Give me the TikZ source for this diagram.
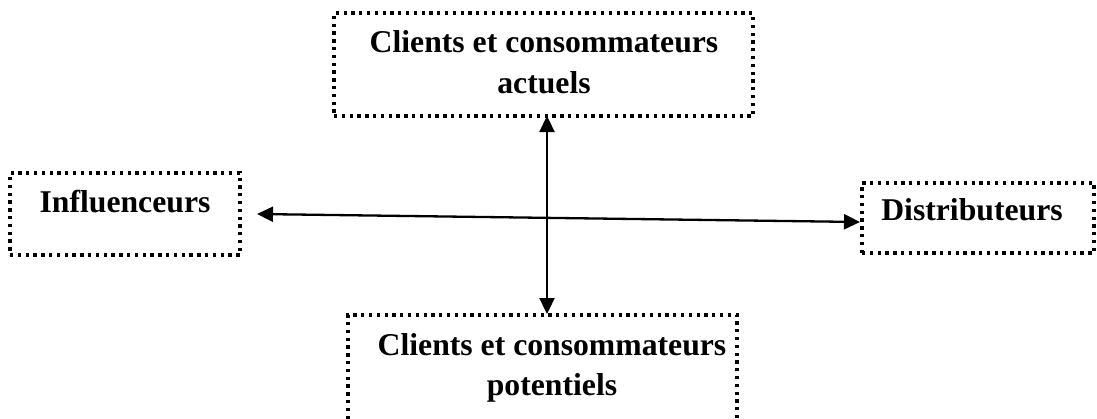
\documentclass[tikz,border=0pt]{standalone}
\usepackage{fontspec}
\setmainfont{Liberation Serif}
\usetikzlibrary{arrows.meta}
\begin{document}
\begin{tikzpicture}[x=1pt,y=-1pt,
  dotbox/.style={draw=black, line width=3.3pt, dash pattern=on 3.3pt off 4.5pt, minimum width=#1, inner sep=0pt},
  lbl/.style={font=\fontsize{31.7}{33}\selectfont\bfseries, align=center, inner sep=0pt, anchor=base},
  link/.style={line width=2.3pt, {Triangle[length=16pt,width=15pt]}-{Triangle[length=16pt,width=15pt]}}]
\useasboundingbox (0,0) rectangle (1097,418);
% boxes
\node[dotbox=419pt, minimum height=103pt] (top) at (543.5,64.5) {};
\node[dotbox=230pt, minimum height=82pt] (inf) at (125,214) {};
\node[dotbox=232pt, minimum height=70pt] (dis) at (978,218) {};
\node[dotbox=389pt, minimum height=112pt] (bot) at (542.5,371) {};
% texts
\node[lbl] (t1) at (544,52) {Clients et consommateurs};
\node[lbl] (t2) at (544,93) {actuels};
\node[lbl] (tinf) at (125,212) {Influenceurs};
\node[lbl] (tdis) at (972,220) {Distributeurs};
\node[lbl] (b1) at (552,355) {Clients et consommateurs};
\node[lbl] (b2) at (552,395) {potentiels};
% connectors
\coordinate (vtop) at (547,116);
\coordinate (vbot) at (547,314);
\coordinate (hl) at (257,214);
\coordinate (hr) at (860,222);
\draw[link] (vtop) -- (vbot);
\draw[link] (hl) -- (hr);
\end{tikzpicture}
\end{document}
